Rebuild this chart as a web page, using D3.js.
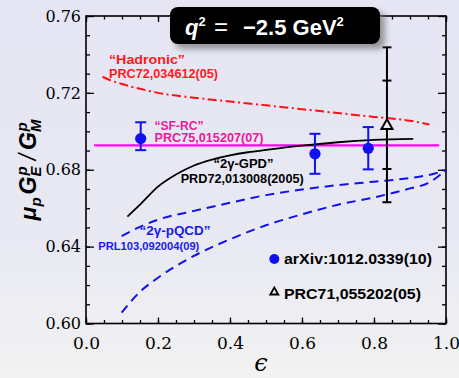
<!DOCTYPE html>
<html>
<head>
<meta charset="utf-8">
<script src="https://cdn.jsdelivr.net/npm/d3@7"></script>
<style>
  html, body { margin: 0; padding: 0; background: #eeeef3; }
  svg { display: block; }
  .tick text { font-family: "DejaVu Serif", "Liberation Serif", serif; }
</style>
</head>
<body>
<svg id="chart" width="459" height="378"></svg>
<script>
// ---- data ----
// measured ratio (blue circles)
const dataEps   = [0.152, 0.636, 0.784];
const dataVal   = [0.6962, 0.6883, 0.6912];
const dataErrHi = [0.0085, 0.0104, 0.0110];
const dataErrLo = [0.0060, 0.0104, 0.0110];

// Rosenbluth point (open triangle), statistical and total errors
const rosEps   = [0.836];
const rosVal   = [0.7034];
const rosStat  = [0.0230];
const rosTotal = [0.0403];

// "Hadronic" two-photon correction
const hadEps = [0.046, 0.066, 0.1, 0.15, 0.2, 0.3, 0.4, 0.5, 0.6, 0.7, 0.8, 0.9, 0.954];
const hadVal = [0.7284, 0.7267, 0.7246, 0.7221, 0.7200, 0.7175, 0.7155, 0.7135, 0.7115, 0.7095, 0.7075, 0.7055, 0.7035];

// "SF-RC" (flat)
const sfEps = [0.023, 0.981];
const sfVal = [0.6927, 0.6927];

// "2γ-GPD"
const gpdEps = [0.115, 0.15, 0.2, 0.25, 0.3, 0.35, 0.4, 0.45, 0.5, 0.6, 0.7, 0.8, 0.909];
const gpdVal = [0.6556, 0.6618, 0.6712, 0.6775, 0.6822, 0.6853, 0.6875, 0.6891, 0.6903, 0.6925, 0.6943, 0.6955, 0.6961];

// "2γ-pQCD" band edges
const qcdEps   = [0.099, 0.15, 0.2, 0.3, 0.4, 0.5, 0.6, 0.7, 0.8, 0.9, 0.95, 1.0];
const qcdUpper = [0.6455, 0.6503, 0.6540, 0.6586, 0.6628, 0.6668, 0.6697, 0.6720, 0.6738, 0.6757, 0.6772, 0.6797];
const qcdLower = [0.6056, 0.6165, 0.6238, 0.6352, 0.6438, 0.6511, 0.6568, 0.6618, 0.6656, 0.6703, 0.6730, 0.6800];

// axis ticks
const xMajor = [0.0, 0.2, 0.4, 0.6, 0.8, 1.0];
const xMinor = d3.range(0, 1.0001, 0.05);
const yMajor = [0.60, 0.64, 0.68, 0.72, 0.76];
const yMinor = d3.range(0.60, 0.7601, 0.01);

// ---- layout ----
const svg = d3.select("#chart");
const W = 459, H = 378;
const x = d3.scaleLinear().domain([0, 1]).range([86, 446]);
const y = d3.scaleLinear().domain([0.60, 0.76]).range([323.5, 16]);

const defs = svg.append("defs");
const bg = defs.append("linearGradient").attr("id", "bg")
  .attr("x1", 0).attr("y1", 0).attr("x2", 0).attr("y2", 1);
bg.append("stop").attr("offset", 0).attr("stop-color", "#e5e5f4");
bg.append("stop").attr("offset", 0.65).attr("stop-color", "#e9e9f3");
bg.append("stop").attr("offset", 1).attr("stop-color", "#f2f2f2");
const blur = defs.append("filter").attr("id", "shadow")
  .attr("x", "-20%").attr("y", "-40%").attr("width", "140%").attr("height", "180%");
blur.append("feGaussianBlur").attr("stdDeviation", 3);

svg.append("rect").attr("width", W).attr("height", H).attr("fill", "url(#bg)");

// ---- axes ----
const serif = "'DejaVu Serif', 'Liberation Serif', serif";
function styleAxis(g) {
  g.attr("font-family", null);
  g.select(".domain").remove();
  g.selectAll("line").attr("stroke", "#000").attr("stroke-width", 1.3);
  g.selectAll("text").style("font-family", serif).attr("fill", "#000");
}

// bottom
svg.append("g").attr("transform", `translate(0,${y(0.60)})`)
  .call(d3.axisBottom(x).tickValues(xMinor).tickSizeInner(-3.5).tickFormat(""))
  .call(styleAxis);
svg.append("g").attr("transform", `translate(0,${y(0.60)})`)
  .call(d3.axisBottom(x).tickValues(xMajor).tickSizeInner(-6).tickPadding(13.5).tickFormat(d3.format(".1f")))
  .call(styleAxis)
  .selectAll("text").style("font-size", "17px");
// top
svg.append("g").attr("transform", `translate(0,${y(0.76)})`)
  .call(d3.axisTop(x).tickValues(xMinor).tickSizeInner(-3.5).tickFormat(""))
  .call(styleAxis);
svg.append("g").attr("transform", `translate(0,${y(0.76)})`)
  .call(d3.axisTop(x).tickValues(xMajor).tickSizeInner(-6).tickFormat(""))
  .call(styleAxis);
// left
svg.append("g").attr("transform", `translate(${x(0)},0)`)
  .call(d3.axisLeft(y).tickValues(yMinor).tickSizeInner(-4).tickFormat(""))
  .call(styleAxis);
svg.append("g").attr("transform", `translate(${x(0)},0)`)
  .call(d3.axisLeft(y).tickValues(yMajor).tickSizeInner(-8).tickPadding(5).tickFormat(d3.format(".2f")))
  .call(styleAxis)
  .selectAll("text").style("font-size", "16px");
// right
svg.append("g").attr("transform", `translate(${x(1)},0)`)
  .call(d3.axisRight(y).tickValues(yMinor).tickSizeInner(-4).tickFormat(""))
  .call(styleAxis);
svg.append("g").attr("transform", `translate(${x(1)},0)`)
  .call(d3.axisRight(y).tickValues(yMajor).tickSizeInner(-8).tickFormat(""))
  .call(styleAxis);

svg.append("rect")
  .attr("x", x(0)).attr("y", y(0.76))
  .attr("width", x(1) - x(0)).attr("height", y(0.60) - y(0.76))
  .attr("fill", "none").attr("stroke", "#000").attr("stroke-width", 1.6);

// ---- curves ----
const line = d3.line().x(d => x(d[0])).y(d => y(d[1])).curve(d3.curveMonotoneX);
const zip = (a, b) => a.map((v, i) => [v, b[i]]);

svg.append("path").datum(zip(hadEps, hadVal)).attr("d", line)
  .attr("fill", "none").attr("stroke", "#ff1010").attr("stroke-width", 2)
  .attr("stroke-dasharray", "9,3.5,2,3.5");
svg.append("path").datum(zip(sfEps, sfVal)).attr("d", line)
  .attr("fill", "none").attr("stroke", "#ff00ff").attr("stroke-width", 2.2);
svg.append("path").datum(zip(gpdEps, gpdVal)).attr("d", line)
  .attr("fill", "none").attr("stroke", "#000").attr("stroke-width", 1.8);
svg.append("path").datum(zip(qcdEps, qcdUpper)).attr("d", line)
  .attr("fill", "none").attr("stroke", "#1010f0").attr("stroke-width", 2)
  .attr("stroke-dasharray", "9,6");
svg.append("path").datum(zip(qcdEps, qcdLower)).attr("d", line)
  .attr("fill", "none").attr("stroke", "#1010f0").attr("stroke-width", 2)
  .attr("stroke-dasharray", "9,6");

// ---- Rosenbluth point with error bars ----
const rg = svg.append("g");
rosEps.forEach((e, i) => {
  const cx = x(e);
  rg.append("line").attr("x1", cx).attr("x2", cx)
    .attr("y1", y(rosVal[i] + rosTotal[i])).attr("y2", y(rosVal[i] - rosTotal[i]))
    .attr("stroke", "#000").attr("stroke-width", 2);
  [rosVal[i] + rosTotal[i], rosVal[i] - rosTotal[i], rosVal[i] + rosStat[i], rosVal[i] - rosStat[i]]
    .forEach(v => rg.append("line").attr("x1", cx - 4.5).attr("x2", cx + 4.5)
      .attr("y1", y(v)).attr("y2", y(v)).attr("stroke", "#000").attr("stroke-width", 2));
  const cy = y(rosVal[i]);
  rg.append("path")
    .attr("d", `M${cx},${cy - 5.5}L${cx + 5.5},${cy + 4.2}L${cx - 5.5},${cy + 4.2}Z`)
    .attr("fill", "#eaeaf3").attr("stroke", "#000").attr("stroke-width", 2)
    .attr("stroke-linejoin", "miter");
});

// ---- measured points ----
const pg = svg.append("g");
dataEps.forEach((e, i) => {
  const cx = x(e);
  const top = y(dataVal[i] + dataErrHi[i]), bot = y(dataVal[i] - dataErrLo[i]);
  pg.append("line").attr("x1", cx).attr("x2", cx).attr("y1", top).attr("y2", bot)
    .attr("stroke", "#1010f0").attr("stroke-width", 2);
  [top, bot].forEach(v => pg.append("line").attr("x1", cx - 5.5).attr("x2", cx + 5.5)
    .attr("y1", v).attr("y2", v).attr("stroke", "#1010f0").attr("stroke-width", 2));
  pg.append("circle").attr("cx", cx).attr("cy", y(dataVal[i])).attr("r", 5.6).attr("fill", "#1010f0");
});

// ---- curve labels ----
const sans = "'Liberation Sans', Arial, sans-serif";
function label(txt, px, py, size, len, color) {
  svg.append("text").attr("x", px).attr("y", py)
    .attr("font-family", sans).attr("font-weight", "bold").attr("font-size", size)
    .attr("fill", color).attr("textLength", len).attr("lengthAdjust", "spacingAndGlyphs")
    .text(txt);
}
label("\u201CHadronic\u201D", 109, 64, 12.5, 76, "#ff1a1a");
label("PRC72,034612(05)", 109, 78, 12.5, 109, "#ff1a1a");
label("\u201CSF-RC\u201D", 154.5, 130, 12.5, 49, "#e8199c");
label("PRC75,015207(07)", 154.5, 141.5, 12.5, 109, "#e8199c");
label("\u201C2\u03B3-GPD\u201D", 213.5, 167.5, 12.5, 60, "#000");
label("PRD72,013008(2005)", 180.7, 182.5, 12.5, 123, "#000");
label("\u201C2\u03B3-pQCD\u201D", 139.5, 235, 12, 71, "#1a1af0");
label("PRL103,092004(09)", 98.3, 249.5, 11.5, 101, "#1a1af0");

// ---- legend ----
svg.append("circle").attr("cx", 274.3).attr("cy", 259).attr("r", 5).attr("fill", "#1010f0");
label("arXiv:1012.0339(10)", 284, 264, 15, 148, "#000");
svg.append("path").attr("d", "M274.3,287.5L278.3,294.5L270.3,294.5Z")
  .attr("fill", "none").attr("stroke", "#000").attr("stroke-width", 1.8);
label("PRC71,055202(05)", 284, 298.5, 15, 137, "#000");

// ---- axis titles ----
svg.append("text").attr("x", 261).attr("y", 371)
  .attr("text-anchor", "middle").style("font-family", serif).attr("font-style", "italic")
  .attr("font-size", 24).attr("fill", "#000").text("\u03F5");

const yl = svg.append("text")
  .attr("transform", "translate(36,170) rotate(-90)")
  .attr("text-anchor", "middle")
  .attr("font-family", sans).attr("font-weight", "bold").attr("font-style", "italic")
  .attr("font-size", 23).attr("fill", "#000");
yl.append("tspan").text("\u03BC");
yl.append("tspan").attr("font-size", 15).attr("dy", 5).text("p");
yl.append("tspan").attr("dx", 3).attr("dy", -5).text("G");
yl.append("tspan").attr("font-size", 15).attr("dy", 5).text("E");
yl.append("tspan").attr("font-size", 15).attr("dx", -9).attr("dy", -14).text("p");
yl.append("tspan").attr("dx", 6).attr("dy", 9).attr("font-weight", "normal").text("/");
yl.append("tspan").attr("dx", 4).text("G");
yl.append("tspan").attr("font-size", 15).attr("dy", 5).text("M");
yl.append("tspan").attr("font-size", 15).attr("dx", -12).attr("dy", -14).text("p");

// ---- title box ----
svg.append("rect").attr("x", 175).attr("y", 12).attr("width", 210).attr("height", 37)
  .attr("rx", 8).attr("fill", "#777").attr("opacity", 0.75).attr("filter", "url(#shadow)");
svg.append("rect").attr("x", 170).attr("y", 7).attr("width", 210).attr("height", 37)
  .attr("rx", 8).attr("fill", "#000");
const tt = svg.append("text").attr("y", 34.5).attr("fill", "#fff")
  .attr("font-family", sans).attr("font-weight", "bold").attr("font-size", 22);
tt.append("tspan").attr("x", 185).attr("font-style", "italic").text("q");
tt.append("tspan").attr("font-size", 13).attr("dy", -9).text("2");
tt.append("tspan").attr("x", 214).attr("dy", 9).attr("font-weight", "normal").attr("font-size", 24).text("=");
tt.append("tspan").attr("x", 243).text("\u22122.5 GeV");
tt.append("tspan").attr("font-size", 13).attr("dy", -9).text("2");
</script>
</body>
</html>
